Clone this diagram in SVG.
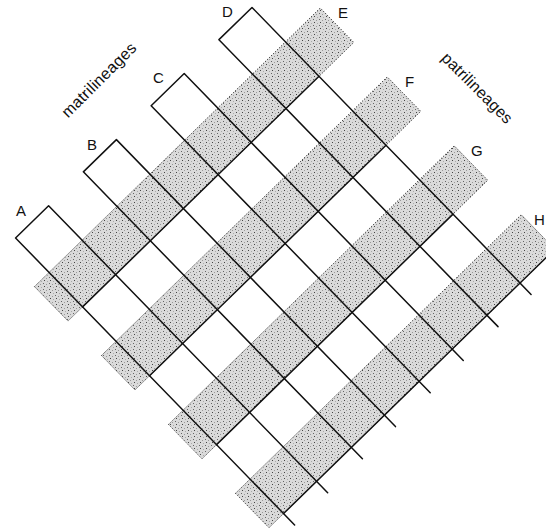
<svg xmlns="http://www.w3.org/2000/svg" width="546" height="528" viewBox="0 0 546 528">
  <defs>
    <pattern id="stip" patternUnits="userSpaceOnUse" width="6" height="6">
      <rect width="6" height="6" fill="#dadada"/>
      <rect x="1" y="1" width="1" height="1" fill="#666"/>
      <rect x="4" y="2" width="1" height="1" fill="#999"/>
      <rect x="2" y="4" width="1" height="1" fill="#444"/>
      <rect x="5" y="5" width="1" height="1" fill="#aaa"/>
    </pattern>
    <style>
      .band { fill: url(#stip); stroke: #333; stroke-width: 1; stroke-dasharray: 1.2 1.6; }
      .ln { stroke: #111; stroke-width: 1.5; fill: none; stroke-linecap: round; stroke-linejoin: round; }
      .lbl { font-family: "Liberation Sans", Arial, sans-serif; font-size: 15px; fill: #111; }
      .ttl { font-family: "Liberation Sans", Arial, sans-serif; font-size: 16px; fill: #111; }
    </style>
  </defs>
  <rect width="546" height="528" fill="#fff"/>

  <!-- patrilineages (grey bands) -->
  <g id="patri-E"><polygon class="band" points="34.47,286.61 320.25,8 353.75,42.45 67.97,321.06"/></g>
  <g id="patri-F"><polygon class="band" points="101.47,355.51 387.25,76.9 420.75,111.35 134.97,389.96"/></g>
  <g id="patri-G"><polygon class="band" points="168.47,424.41 454.25,145.8 487.75,180.25 201.97,458.86"/></g>
  <g id="patri-H"><polygon class="band" points="235.47,493.31 521.25,214.7 554.75,249.15 268.97,527.76"/></g>

  <!-- matrilineages (white strips) -->
  <g id="matri-A"><polyline class="ln" points="294.61,524.92 15.55,237.95 48.6,205.73 327.66,492.7"/></g>
  <g id="matri-B"><polyline class="ln" points="362.41,458.82 83.35,171.85 116.4,139.63 395.46,426.6"/></g>
  <g id="matri-C"><polyline class="ln" points="430.21,392.72 151.15,105.75 184.2,73.53 463.26,360.5"/></g>
  <g id="matri-D"><polyline class="ln" points="498.01,326.62 218.95,39.65 252,7.43 531.06,294.4"/></g>

  <!-- solid lower edges of the grey bands across the grid -->
  <g id="connectors">
    <line class="ln" x1="82.55" y1="306.85" x2="319" y2="76.33"/>
    <line class="ln" x1="149.55" y1="375.75" x2="386" y2="145.23"/>
    <line class="ln" x1="216.55" y1="444.65" x2="453" y2="214.13"/>
    <line class="ln" x1="283.55" y1="513.55" x2="554.75" y2="249.15"/>
  </g>

  <g id="labels">
    <text class="lbl" x="16" y="216">A</text>
    <text class="lbl" x="87" y="150">B</text>
    <text class="lbl" x="153" y="83">C</text>
    <text class="lbl" x="222" y="17">D</text>
    <text class="lbl" x="338" y="18">E</text>
    <text class="lbl" x="405" y="87">F</text>
    <text class="lbl" x="471" y="156">G</text>
    <text class="lbl" x="534" y="225">H</text>
    <text class="ttl" transform="translate(68,118.5) rotate(-45)" textLength="98">matrilineages</text>
    <text class="ttl" transform="translate(440.5,59) rotate(45)" textLength="93">patrilineages</text>
  </g>
</svg>
